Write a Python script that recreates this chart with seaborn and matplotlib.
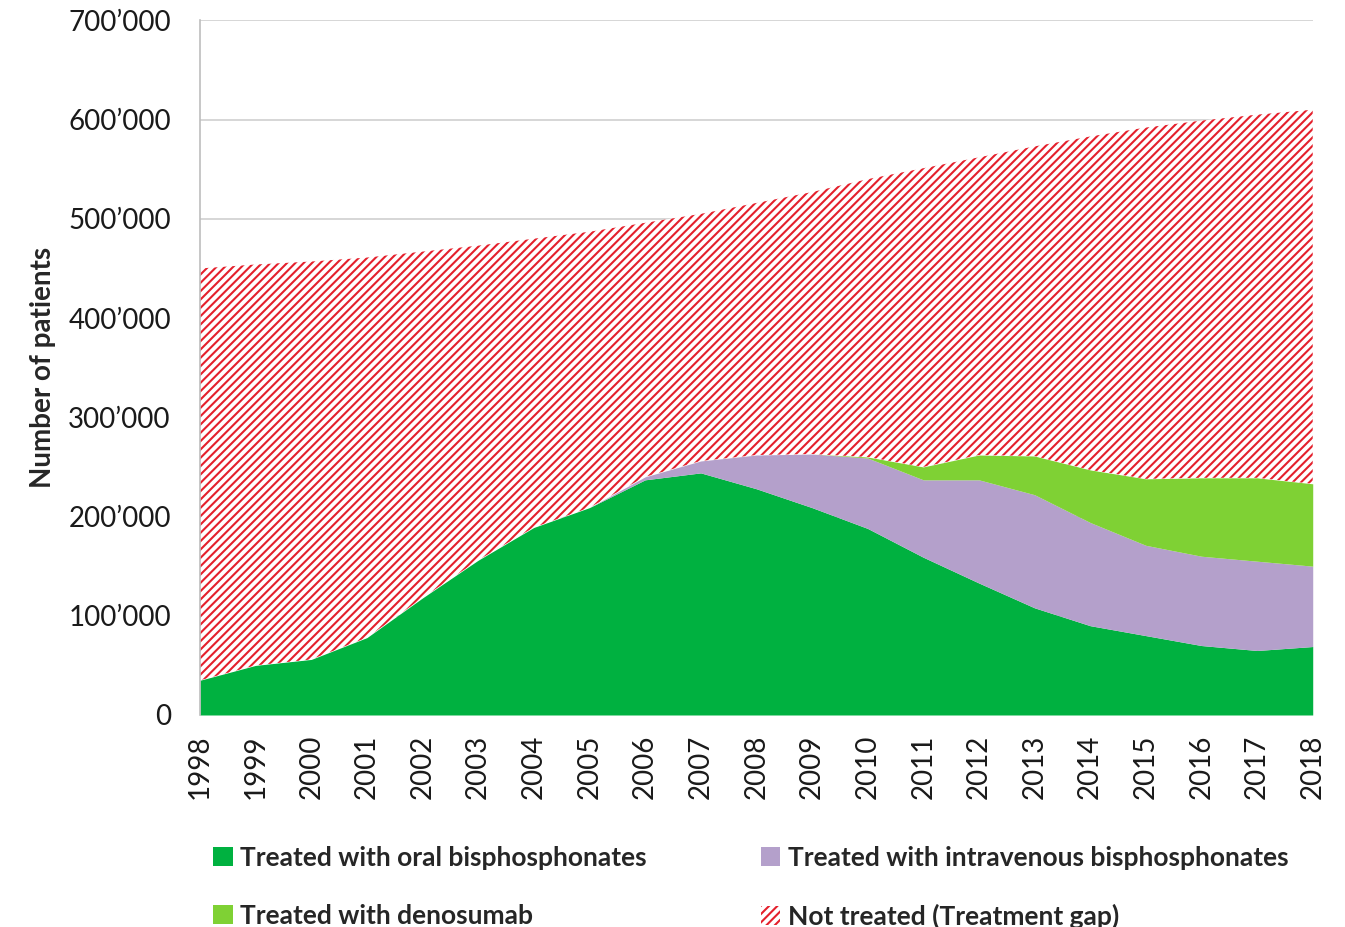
import matplotlib
matplotlib.use("Agg")
import matplotlib.pyplot as plt
import matplotlib.ticker as mticker
from matplotlib.patches import Patch
import seaborn as sns

#---------------- data (thousands of patients) ----------------
years = list(range(1998, 2019))
oral = [35, 50, 56, 78, 118, 156, 189, 209, 237, 244, 228, 209, 188, 159, 133, 108, 90, 80, 70, 65, 69]
intravenous = [0, 0, 0, 0, 0, 0, 0, 0, 3, 12, 34, 54, 71, 78, 104, 114, 104, 91, 90, 90, 81]
denosumab = [0, 0, 0, 0, 0, 0, 0, 0, 0, 0, 0, 0, 1, 13, 25, 39, 53, 67, 79, 84, 83]
not_treated = [415, 404, 401, 383, 349, 317, 291, 278, 256, 249, 254, 264, 280, 301, 300, 312, 336, 354, 360, 366, 377]

labels = ["Treated with oral bisphosphonates", "Treated with intravenous bisphosphonates",
          "Treated with denosumab", "Not treated (Treatment gap)"]
colors = ["#00B140", "#B4A0CB", "#7FD134", "white"]
red = "#E4202C"

#---------------- style ----------------
sns.set_theme(style="white")
plt.rcParams["font.family"] = ["Lato", "DejaVu Sans"]
plt.rcParams["hatch.linewidth"] = 1.5
plt.rcParams["hatch.color"] = red

fig = plt.figure(figsize=(13.45, 9.27), dpi=100)
ax = fig.add_axes([0.1487, 0.2287, 0.976 - 0.1487, 0.978 - 0.2287])

series = [[v * 1000 for v in s] for s in (oral, intravenous, denosumab, not_treated)]
polys = ax.stackplot(years, *series, colors=colors, linewidth=0)
polys[3].set_hatch("////")
polys[3].set_edgecolor(red)
polys[3].set_linewidth(0)

ax.set_xlim(1998, 2018)
ax.set_ylim(0, 700000)
ax.yaxis.set_major_locator(mticker.MultipleLocator(100000))
ax.yaxis.set_major_formatter(mticker.FuncFormatter(
    lambda v, p: "0" if v == 0 else f"{int(v):,}".replace(",", "\u2019")))
ax.set_xticks(years)
ax.set_xticklabels([str(y) for y in years], rotation=90)
ax.tick_params(axis="y", labelsize=20, length=0, colors="#1a1a1a", pad=21)
ax.tick_params(axis="x", labelsize=20, length=0, colors="#1a1a1a", pad=14)
ax.grid(axis="y", color="#d0d0d0", linewidth=1.2)
ax.set_axisbelow(True)
for side in ("top", "right", "bottom"):
    ax.spines[side].set_visible(False)
ax.spines["left"].set_color("#bdbdbd")
ax.spines["left"].set_linewidth(1.2)
ax.set_ylabel("Number of patients", fontsize=20, fontweight="bold", labelpad=9)

# legend fills column by column -> order so rows read oral/iv, denosumab/gap
handles = [Patch(facecolor=colors[0], edgecolor="none"),
           Patch(facecolor=colors[2], edgecolor="none"),
           Patch(facecolor=colors[1], edgecolor="none"),
           Patch(facecolor="white", edgecolor=red, hatch="////", linewidth=0)]
leg_labels = [labels[0], labels[2], labels[1], labels[3]]
fig.legend(handles, leg_labels, ncol=2, loc="lower left", bbox_to_anchor=(0.1405, -0.028),
           frameon=False, prop={"size": 19, "weight": "bold"},
           handlelength=0.75, handleheight=0.75, handletextpad=0.3,
           columnspacing=4.3, labelspacing=1.3)

fig.savefig("out.png", dpi=100)
